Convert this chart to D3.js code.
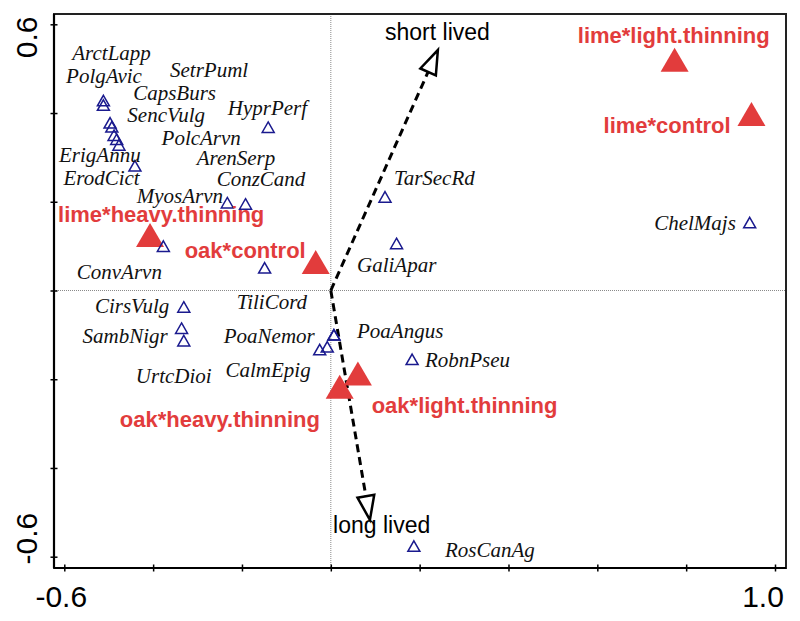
<!DOCTYPE html>
<html>
<head>
<meta charset="utf-8">
<script src="https://cdn.jsdelivr.net/npm/d3@7"></script>
<style>
  body { margin: 0; background: #fff; }
  svg { display: block; }
  .sp { font-family: "Liberation Serif", "Times New Roman", serif; font-style: italic; font-size: 21px; fill: #111; }
  .trt { font-family: "Liberation Sans", Arial, sans-serif; font-weight: bold; font-size: 22px; fill: #e23c3c; }
  .trait { font-family: "Liberation Sans", Arial, sans-serif; font-size: 23px; fill: #000; }
  .tick-label { font-family: "Liberation Sans", Arial, sans-serif; font-size: 30px; fill: #000; }
</style>
</head>
<body>
<svg id="chart"></svg>
<script>
// species scores (open triangles) and where their names were placed
const speciesNames = ["ArctLapp", "PolgAvic", "CapsBurs", "SencVulg", "SetrPuml", "PolcArvn", "ErigAnnu", "ErodCict",
    "HyprPerf", "ArenSerp", "ConzCand", "MyosArvn", "ConvArvn", "TarSecRd", "GaliApar", "ChelMajs",
    "CirsVulg", "SambNigr", "UrtcDioi", "TiliCord", "PoaAngus", "PoaNemor", "CalmEpig", "RobnPseu", "RosCanAg"]
const speciesX = [-0.512, -0.512, -0.497, -0.493, -0.488, -0.482, -0.477, -0.441,
    -0.141, -0.233, -0.192, -0.377, -0.149, 0.122, 0.148, 0.943,
    -0.331, -0.336, -0.331, 0.007, 0.007, -0.008, -0.025, 0.183, 0.187]
const speciesY = [0.428, 0.418, 0.378, 0.369, 0.350, 0.341, 0.328, 0.281,
    0.368, 0.198, 0.195, 0.100, 0.051, 0.211, 0.106, 0.153,
    -0.037, -0.085, -0.113, -0.100, -0.100, -0.127, -0.133, -0.155, -0.576]
const speciesLabelX = [-0.582, -0.596, -0.445, -0.458, -0.362, -0.381, -0.612, -0.602,
    -0.232, -0.302, -0.257, -0.437, -0.572, 0.142, 0.059, 0.728,
    -0.531, -0.559, -0.439, -0.212, 0.059, -0.241, -0.237, 0.212, 0.257]
const speciesLabelY = [0.520, 0.467, 0.429, 0.380, 0.482, 0.328, 0.290, 0.238,
    0.396, 0.283, 0.236, 0.197, 0.027, 0.238, 0.042, 0.136,
    -0.051, -0.118, -0.208, -0.042, -0.107, -0.118, -0.194, -0.172, -0.601]

// treatment centroids (filled triangles)
const treatmentNames = ["lime*light.thinning", "lime*control", "lime*heavy.thinning",
    "oak*control", "oak*heavy.thinning", "oak*light.thinning"]
const treatmentX = [0.774, 0.947, -0.407, -0.034, 0.020, 0.061]
const treatmentY = [0.520, 0.398, 0.125, 0.064, -0.217, -0.187]
const treatmentLabelX = [0.556, 0.614, -0.614, -0.329, -0.475, 0.092]
const treatmentLabelY = [0.557, 0.354, 0.155, 0.073, -0.307, -0.276]

// trait vectors (dashed arrows)
const traitNames = ["short lived", "long lived"]
const traitX = [0.241, 0.088]
const traitY = [0.542, -0.517]
const traitLabelX = [0.122, 0.005]
const traitLabelY = [0.565, -0.547]

const xTicks = [-0.6, -0.4, -0.2, 0, 0.2, 0.4, 0.6, 0.8, 1.0]
const yTicks = [-0.6, -0.4, -0.2, 0, 0.2, 0.4, 0.6]
const xTickLabels = [{ v: -0.6, t: "-0.6", dx: -3 }, { v: 1.0, t: "1.0", dx: -12 }]
const yTickLabels = [{ v: 0.6, t: "0.6", dy: 13 }, { v: -0.6, t: "-0.6", dy: -18 }]

const width = 800
const height = 621
const box = { left: 54, right: 786, top: 14, bottom: 568 }

const svg = d3.select("#chart")
    .attr("width", width)
    .attr("height", height)

const x = d3.scaleLinear().domain([-0.6, 1.0]).range([64.3, 775])
const y = d3.scaleLinear().domain([-0.6, 0.6]).range([556.7, 24.3])

// zero lines
svg.append("line")
    .attr("x1", x(0)).attr("x2", x(0))
    .attr("y1", box.top).attr("y2", box.bottom)
    .attr("stroke", "#8a8a8a").attr("stroke-width", 1)
    .attr("stroke-dasharray", "1,1")
svg.append("line")
    .attr("x1", box.left).attr("x2", box.right)
    .attr("y1", y(0)).attr("y2", y(0))
    .attr("stroke", "#8a8a8a").attr("stroke-width", 1)
    .attr("stroke-dasharray", "1,1")

// frame
svg.append("rect")
    .attr("x", box.left).attr("y", box.top)
    .attr("width", box.right - box.left)
    .attr("height", box.bottom - box.top)
    .attr("fill", "none")
    .attr("stroke", "#222")
    .attr("stroke-width", 2)

// axes, ticks cross the frame line
const xAxis = svg.append("g")
    .attr("transform", `translate(0, ${box.bottom + 3.5})`)
    .call(d3.axisBottom(x).tickValues(xTicks).tickSize(7).tickFormat(""))
xAxis.select(".domain").remove()
xAxis.selectAll("line").attr("stroke", "#000").attr("stroke-width", 1.5).attr("y1", -7).attr("y2", 0)

const yAxis = svg.append("g")
    .attr("transform", `translate(${box.left - 3.5}, 0)`)
    .call(d3.axisLeft(y).tickValues(yTicks).tickSize(7).tickFormat(""))
yAxis.select(".domain").remove()
yAxis.selectAll("line").attr("stroke", "#000").attr("stroke-width", 1.5).attr("x1", 0).attr("x2", 7)

svg.append("line")
    .attr("x1", box.left).attr("x2", box.right)
    .attr("y1", box.bottom).attr("y2", box.bottom)
    .attr("stroke", "#000").attr("stroke-width", 2.2)
svg.append("line")
    .attr("x1", box.left).attr("x2", box.left)
    .attr("y1", box.top).attr("y2", box.bottom)
    .attr("stroke", "#000").attr("stroke-width", 2.2)

svg.selectAll(".xl")
    .data(xTickLabels)
    .join("text")
    .attr("class", "tick-label")
    .attr("x", d => x(d.v) + d.dx)
    .attr("y", 607)
    .attr("text-anchor", "middle")
    .text(d => d.t)

svg.selectAll(".yl")
    .data(yTickLabels)
    .join("text")
    .attr("class", "tick-label")
    .attr("transform", d => `translate(37, ${y(d.v) + d.dy}) rotate(-90)`)
    .attr("text-anchor", "middle")
    .text(d => d.t)

// arrows
const headLen = 24
const headHalf = 8.5
traitNames.forEach((name, i) => {
    const x0 = x(0), y0 = y(0)
    const x1 = x(traitX[i]), y1 = y(traitY[i])
    const len = Math.hypot(x1 - x0, y1 - y0)
    const ux = (x1 - x0) / len, uy = (y1 - y0) / len
    const bx = x1 - ux * headLen, by = y1 - uy * headLen

    svg.append("line")
        .attr("x1", x0).attr("y1", y0)
        .attr("x2", bx).attr("y2", by)
        .attr("stroke", "#000")
        .attr("stroke-width", 3)
        .attr("stroke-dasharray", "8,5")

    const head = [
        [x1, y1],
        [bx - uy * headHalf, by + ux * headHalf],
        [bx + uy * headHalf, by - ux * headHalf]
    ]
    svg.append("path")
        .attr("d", d3.line()(head) + "Z")
        .attr("fill", "#fff")
        .attr("stroke", "#000")
        .attr("stroke-width", 2.5)
        .attr("stroke-linejoin", "miter")

    svg.append("text")
        .attr("class", "trait")
        .attr("x", x(traitLabelX[i]))
        .attr("y", y(traitLabelY[i]))
        .text(name)
})

// triangle path centred on its bounding box
const tri = (cx, cy, w, h) =>
    `M${cx},${cy - h / 2}L${cx + w / 2},${cy + h / 2}L${cx - w / 2},${cy + h / 2}Z`

svg.selectAll(".trt-pt")
    .data(treatmentNames)
    .join("path")
    .attr("d", (d, i) => tri(x(treatmentX[i]), y(treatmentY[i]), 28, 24))
    .attr("fill", "#e23c3c")

svg.selectAll(".sp-pt")
    .data(speciesNames)
    .join("path")
    .attr("d", (d, i) => tri(x(speciesX[i]), y(speciesY[i]), 12, 10.5))
    .attr("fill", "none")
    .attr("stroke", "#1a1a8e")
    .attr("stroke-width", 1.5)

svg.selectAll(".sp-lab")
    .data(speciesNames)
    .join("text")
    .attr("class", "sp")
    .attr("x", (d, i) => x(speciesLabelX[i]))
    .attr("y", (d, i) => y(speciesLabelY[i]))
    .text(d => d)

svg.selectAll(".trt-lab")
    .data(treatmentNames)
    .join("text")
    .attr("class", "trt")
    .attr("x", (d, i) => x(treatmentLabelX[i]))
    .attr("y", (d, i) => y(treatmentLabelY[i]))
    .text(d => d)
</script>
</body>
</html>
